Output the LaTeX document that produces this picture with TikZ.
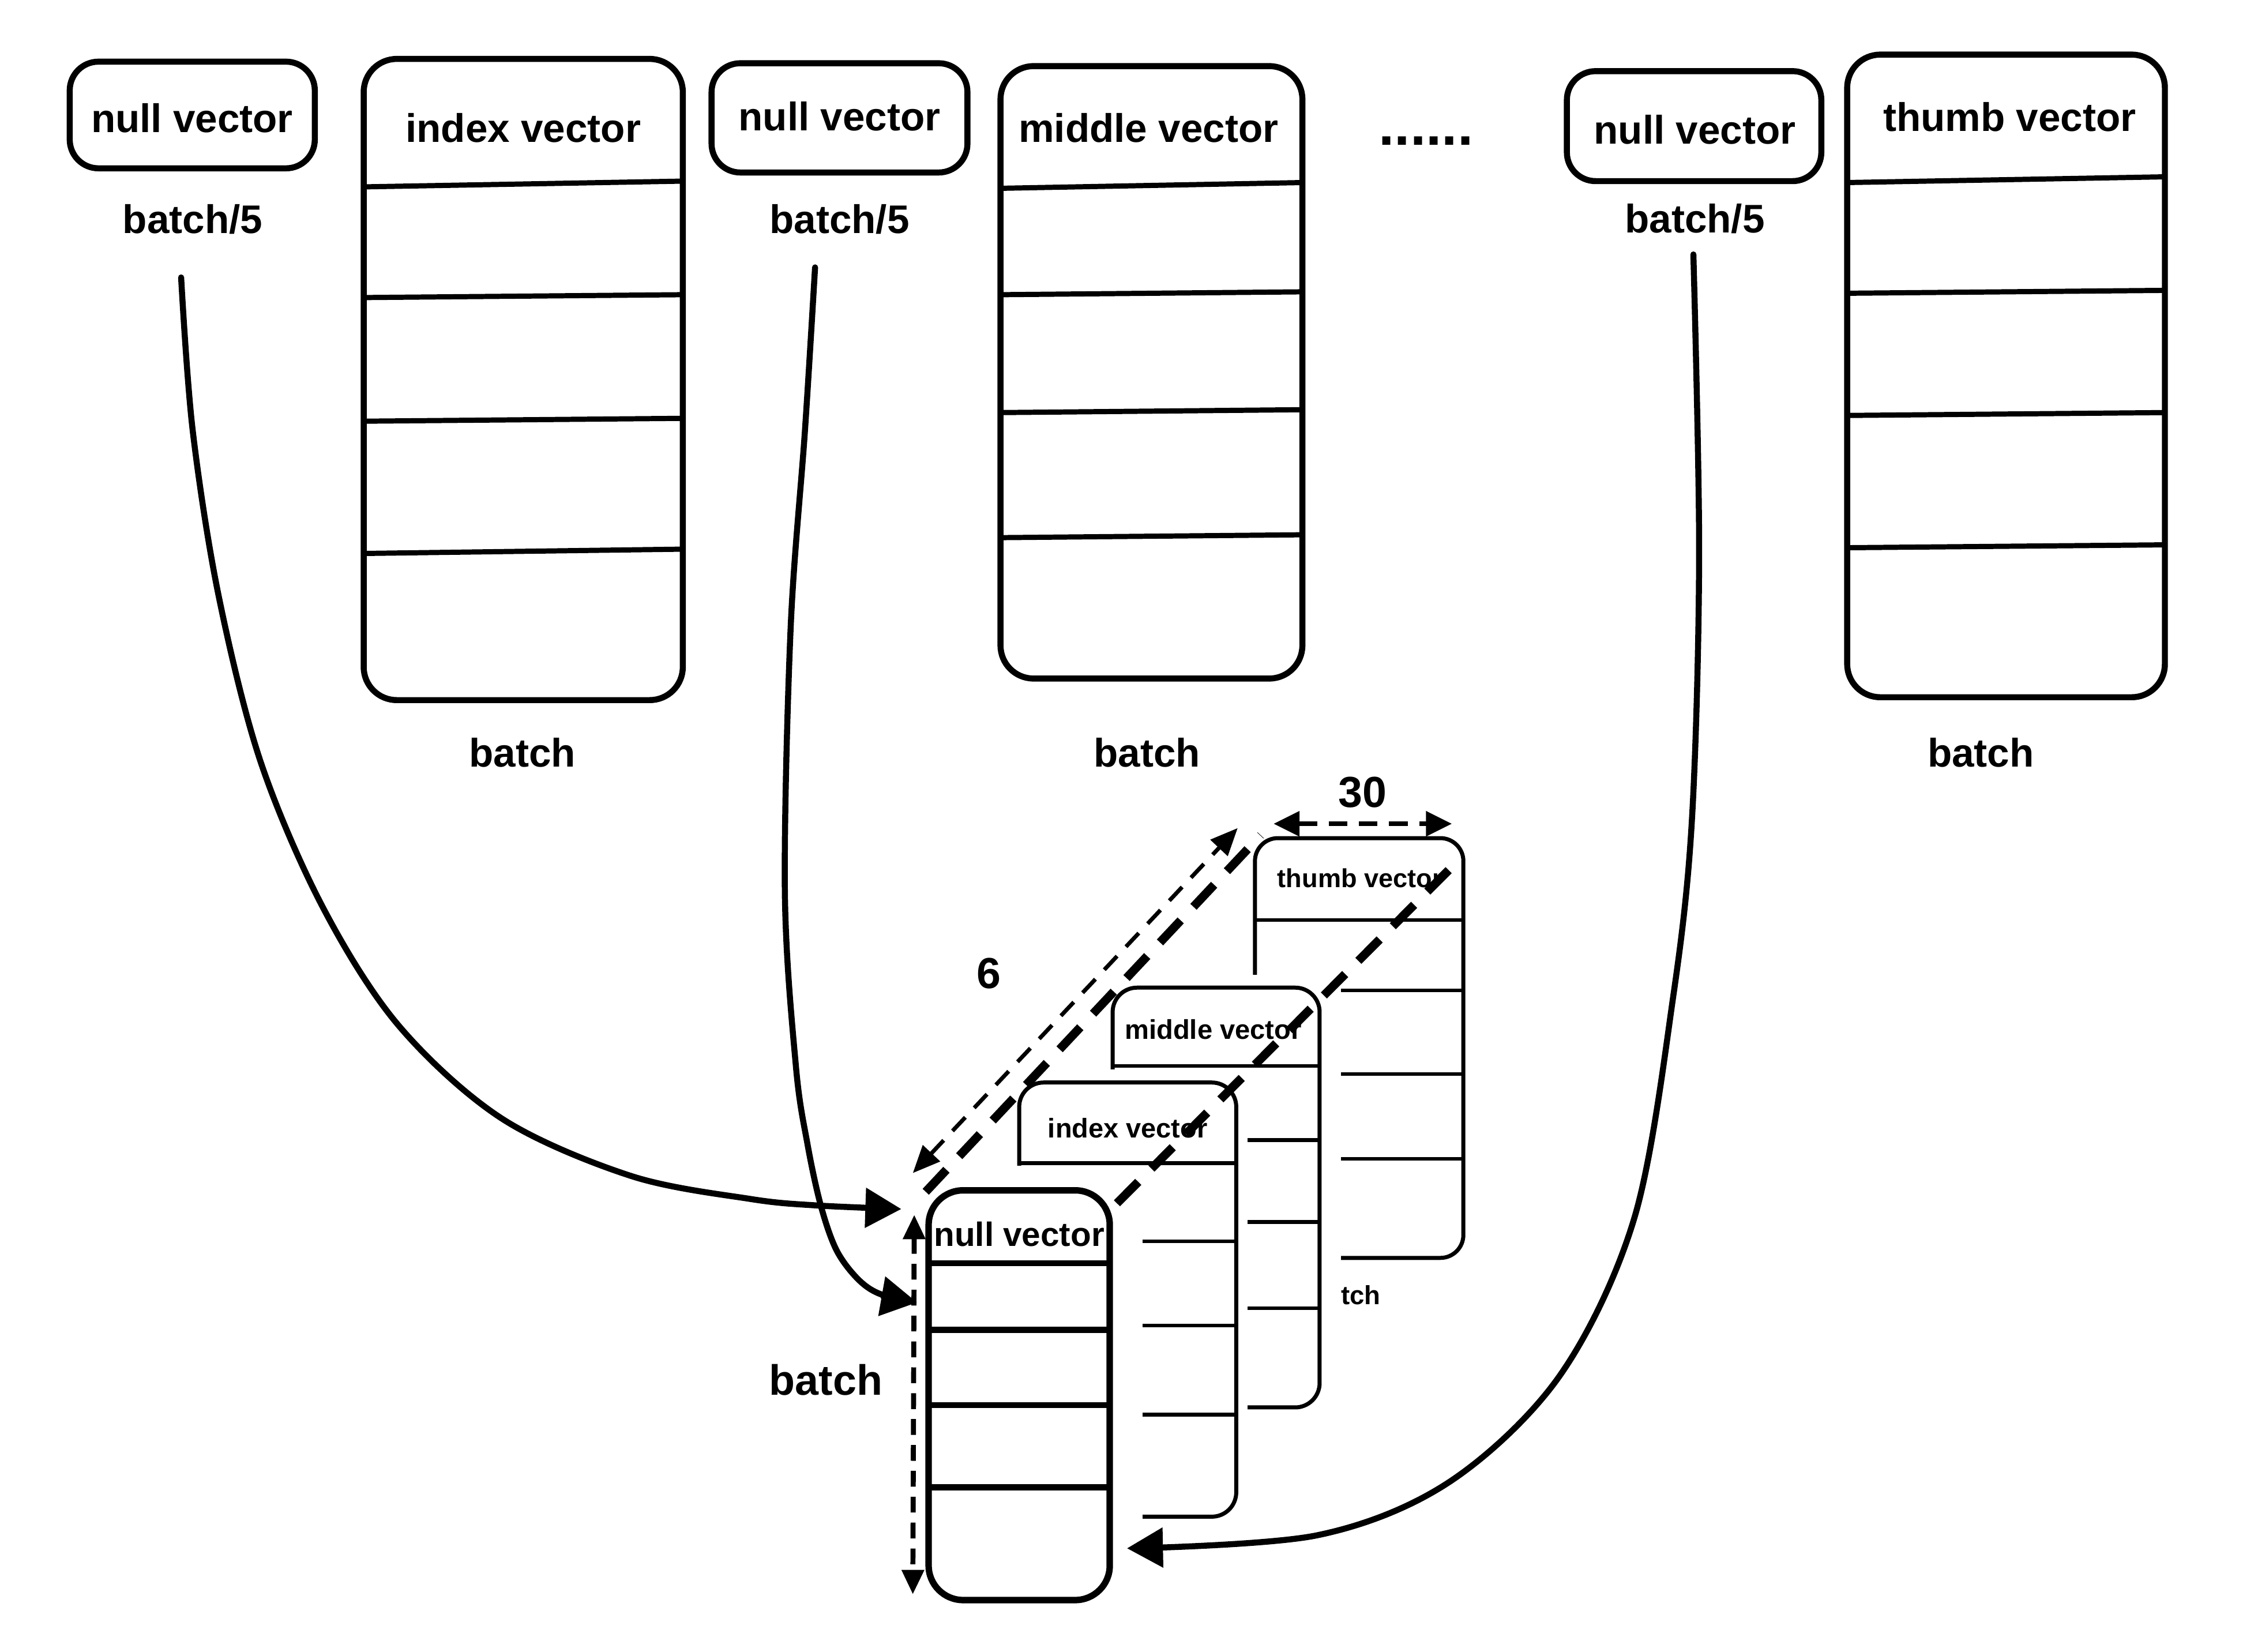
\documentclass[tikz,border=0pt]{standalone}
\usepackage{fontspec}
\setmainfont{Liberation Sans}
\usetikzlibrary{arrows.meta}
\begin{document}
\begin{tikzpicture}[x=0.1mm,y=-0.1mm,
  every node/.style={inner sep=0pt, outer sep=0pt},
  frame/.style={draw, line width=0.42mm, rounded corners=2.3mm, fill=white},
  rowline/.style={line width=0.36mm},
  big/.style={font=\fontsize{7.9}{9}\selectfont\bfseries},
  dim/.style={font=\fontsize{8.6}{10}\selectfont\bfseries},
  card/.style={draw, line width=0.28mm, rounded corners=1.7mm, fill=white},
  cardrow/.style={line width=0.26mm},
  cardtxt/.style={font=\fontsize{5.3}{6}\selectfont\bfseries},
  frontcard/.style={draw, line width=0.45mm, rounded corners=2.4mm, fill=white},
  frontrow/.style={line width=0.42mm},
  cover/.style={fill=white, draw=none},
  curve/.style={line width=0.42mm, line cap=round, -{Triangle[length=2.5mm, width=2.7mm]}},
  thickdash/.style={line width=0.6mm, dash pattern=on 2.1mm off 1.3mm},
  thindash/.style={line width=0.28mm, dash pattern=on 1.3mm off 0.9mm,
    {Triangle[length=1.9mm, width=1.6mm]}-{Triangle[length=1.9mm, width=1.6mm]}},
  widthdash/.style={line width=0.3mm, dash pattern=on 1.3mm off 0.8mm,
    {Triangle[length=1.8mm, width=1.7mm]}-{Triangle[length=1.8mm, width=1.7mm]}},
  heightdash/.style={line width=0.35mm, dash pattern=on 1.1mm off 0.7mm,
    {Triangle[length=1.7mm, width=1.5mm]}-{Triangle[length=1.7mm, width=1.5mm]}},
]
\useasboundingbox (0,0) rectangle (1568,1149);

% ---------------- top row ----------------
% null vector 1
\node[frame, rounded corners=2mm, minimum width=17.05mm, minimum height=7.42mm] (nullA) at (133.75,80) {};
\node[big] (nullAtxt) at (133.6,82) {null vector};
\node[big] (nullAlbl) at (134,152.5) {batch/5};

% index vector
\node[frame, minimum width=22.2mm, minimum height=44.6mm] (idxbox) at (364,264) {};
\draw[rowline] (253,130) -- (475,126);
\draw[rowline] (253,207) -- (475,205);
\draw[rowline] (253,293) -- (475,291);
\draw[rowline] (253,385) -- (475,382);
\node[big] (idxtitle) at (364,89) {index vector};
\node[big] (idxlbl) at (363.5,523.5) {batch};

% null vector 2
\node[frame, rounded corners=2mm, minimum width=17.8mm, minimum height=7.6mm] (nullB) at (584,82) {};
\node[big] (nullBtxt) at (584,81) {null vector};
\node[big] (nullBlbl) at (584,152.5) {batch/5};

% middle vector
\node[frame, minimum width=21.0mm, minimum height=42.6mm] (midbox) at (801,259) {};
\draw[rowline] (696,131) -- (906,127);
\draw[rowline] (696,205) -- (906,203);
\draw[rowline] (696,287) -- (906,285);
\draw[rowline] (696,374) -- (906,372);
\node[big] (midtitle) at (799,89) {middle vector};
\node[big] (midlbl) at (798,523.5) {batch};

% continuation dots
\node[font=\fontsize{11.2}{13}\selectfont\bfseries] (dots) at (992,98) {......};

% null vector 3
\node[frame, rounded corners=2mm, minimum width=17.7mm, minimum height=7.65mm] (nullC) at (1178.5,87.75) {};
\node[big] (nullCtxt) at (1179,90) {null vector};
\node[big] (nullClbl) at (1179,152) {batch/5};

% thumb vector
\node[frame, minimum width=22.1mm, minimum height=44.7mm] (thbbox) at (1395.5,261.5) {};
\draw[rowline] (1285,127) -- (1506,123);
\draw[rowline] (1285,204) -- (1506,202);
\draw[rowline] (1285,289) -- (1506,287);
\draw[rowline] (1285,381) -- (1506,379);
\node[big] (thbtitle) at (1398,81.5) {thumb vector};
\node[big] (thblbl) at (1378,523.5) {batch};

% ---------------- stacked cards ----------------
% thumb card (back)
\node[card, rounded corners=1.6mm, minimum width=14.5mm, minimum height=29.2mm] (cthumb) at (945.5,729) {};
\draw[cardrow] (873,640) -- (1018,640);
\draw[cardrow] (873,689) -- (1018,689);
\draw[cardrow] (873,747) -- (1018,747);
\draw[cardrow] (873,806) -- (1018,806);
\node[cardtxt, font=\fontsize{5.15}{6}\selectfont\bfseries] (cthumbtxt) at (946,611) {thumb vector};
\node[cardtxt, font=\fontsize{5.2}{6}\selectfont\bfseries] (cthumblbl) at (936,901) {batch};

% middle card
\fill[cover] (766,678) rectangle (933,992);
\node[card, minimum width=14.4mm, minimum height=29.2mm] (cmid) at (846,833) {};
\draw[cardrow] (774,741.5) -- (918,741.5);
\draw[cardrow] (774,793) -- (918,793);
\draw[cardrow] (774,850) -- (918,850);
\draw[cardrow] (774,910) -- (918,910);
\node[cardtxt, font=\fontsize{5.38}{6}\selectfont\bfseries] (cmidtxt) at (844,716) {middle vector};

% index card
\fill[cover] (703,744) rectangle (868,1065);
\node[card, minimum width=15.1mm, minimum height=30.2mm] (cidx) at (784.5,904) {};
\draw[cardrow] (709,809) -- (860,809);
\draw[cardrow] (709,863.5) -- (860,863.5);
\draw[cardrow] (709,922) -- (860,922);
\draw[cardrow] (709,984) -- (860,984);
\node[cardtxt, font=\fontsize{5.36}{6}\selectfont\bfseries] (cidxtxt) at (784.5,784.5) {index vector};

% null card (front)
\fill[cover] (640,811) rectangle (795,1130);
\node[frontcard, minimum width=12.6mm, minimum height=28.5mm] (cnull) at (709,970.5) {};
\draw[frontrow] (646,878.7) -- (772,878.7);
\draw[frontrow] (646,925) -- (772,925);
\draw[frontrow] (646,977.5) -- (772,977.5);
\draw[frontrow] (646,1034.5) -- (772,1034.5);
\node[font=\fontsize{6.67}{8}\selectfont\bfseries] (cnulltxt) at (709,858.5) {null vector};

% ---------------- dimensions ----------------
\coordinate (dl1) at (644,829);
\coordinate (dl2) at (877,581);
\coordinate (dr1) at (777,837);
\coordinate (dr2) at (1016,597);
\draw[thickdash] (dl1) -- (dl2);
\draw[thickdash] (dr1) -- (dr2);

\coordinate (d6a) at (635,816);
\coordinate (d6b) at (861,576);
\draw[thindash] (d6a) -- (d6b);
\node[dim] (six) at (688,677) {6};

\coordinate (d30a) at (886,573);
\coordinate (d30b) at (1010,573);
\draw[widthdash] (d30a) -- (d30b);
\node[dim] (thirty) at (948,551) {30};

\coordinate (dba) at (636,845);
\coordinate (dbb) at (635,1109);
\draw[heightdash] (dba) -- (dbb);
\node[dim, font=\fontsize{8.4}{10}\selectfont\bfseries] (stacklbl) at (574.5,960) {batch};

% ---------------- merging arrows ----------------
\coordinate (c1s) at (126,193);
\coordinate (c1e) at (627,841);
\draw[curve] plot[smooth, tension=0.55] coordinates {(c1s) (134,299) (152,414) (181,529) (224,630) (277,713) (349,778) (439,818) (522,834) (568,838.5) (c1e)};

\coordinate (c2s) at (567,186);
\coordinate (c2e) at (638,906);
\draw[curve] plot[smooth, tension=0.55] coordinates {(c2s) (560,299) (550,437) (546,621) (553.7,742) (561.7,795.7) (571,838.6) (581.8,869.4) (596.5,889.4) (612,900) (c2e)};

\coordinate (c3s) at (1178,177);
\coordinate (c3e) at (784,1077);
\draw[curve] plot[smooth, tension=0.55] coordinates {(c3s) (1182,386) (1177,570) (1164,693) (1137,847) (1085,957) (1008,1031) (916,1068) (c3e)};
\end{tikzpicture}
\end{document}
